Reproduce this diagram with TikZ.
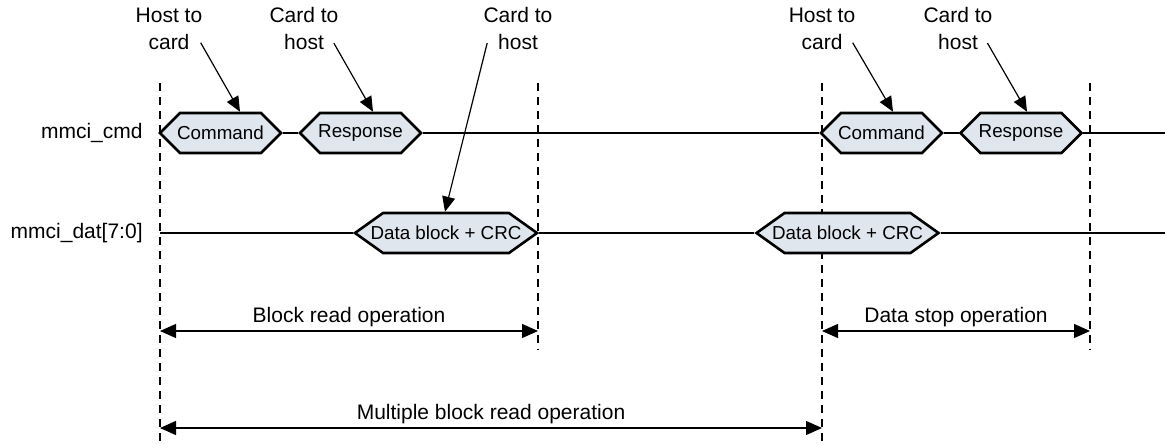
\documentclass[tikz,border=0pt]{standalone}
\usepackage{fontspec}
\setmainfont{Liberation Sans}
\usetikzlibrary{positioning,arrows.meta,shapes.symbols}
\definecolor{ink}{HTML}{000000}
\definecolor{sigfill}{HTML}{E0E6ED}
\newcommand{\sigtext}[1]{\makebox[0pt]{#1}}
\tikzset{
  every node/.style={text=ink},
  sig/.style={signal, signal to=west and east, signal pointer angle=#1,
              draw=ink, line width=1.3pt, fill=sigfill, minimum height=20pt,
              inner xsep=0pt, inner ysep=0pt, font=\fontsize{9.4}{11}\selectfont},
  sig/.default=90,
  cmdsig/.style={sig=90, minimum width=60.5pt},
  datsig/.style={sig=71, minimum width=91pt},
  wire/.style={draw=ink, line width=1.1pt},
  cue/.style={draw=ink, line width=0.6pt, dash pattern=on 4pt off 3pt},
  dim/.style={{Triangle[length=8pt,width=7pt]}-{Triangle[length=8pt,width=7pt]},
              draw=ink, line width=0.6pt},
  note/.style={-{Triangle[length=7.5pt,width=6.5pt]}, draw=ink, line width=0.6pt},
  lab/.style={font=\fontsize{10.5}{13.5}\selectfont, align=center, inner sep=1pt},
  signame/.style={lab, anchor=east},
}

\begin{document}
\begin{tikzpicture}[x=0.5pt,y=0.5pt]
\useasboundingbox (0,0) rectangle (1165,444);

% ---------------- time markers ----------------
\coordinate (mAt) at (160,361);  \coordinate (mAb) at (160,0);
\coordinate (mBt) at (538,361);  \coordinate (mBb) at (538,94);
\coordinate (mCt) at (822,361);  \coordinate (mCb) at (822,0);
\coordinate (mDt) at (1090,361); \coordinate (mDb) at (1090,94);
\draw[cue] (mAt) -- (mAb);
\draw[cue] (mBt) -- (mBb);
\draw[cue] (mCt) -- (mCb);
\draw[cue] (mDt) -- (mDb);

% ---------------- signals ----------------
\node[signame] (lcmd) at (145,311) {mmci\_cmd};
\node[signame] (ldat) at (145,211) {mmci\_dat[7:0]};

\node[cmdsig] (cmdA) at (220.5,311) {\sigtext{Command}};
\node[cmdsig] (rspA) at (360.5,311) {\sigtext{Response}};
\node[cmdsig] (cmdB) at (881.5,311) {\sigtext{Command}};
\node[cmdsig] (rspB) at (1021,311)  {\sigtext{Response}};
\node[datsig] (datA) at (446,211)   {\sigtext{Data block + CRC}};
\node[datsig] (datB) at (847.5,211) {\sigtext{Data block + CRC}};

\coordinate (dat0) at (160,211);
\coordinate (cmdE) at (1165,311);
\coordinate (datE) at (1165,211);

\draw[wire] (cmdA.east) -- (rspA.west);
\draw[wire] (rspA.east) -- (cmdB.west);
\draw[wire] (cmdB.east) -- (rspB.west);
\draw[wire] (rspB.east) -- (cmdE);
\draw[wire] (dat0) -- (datA.west);
\draw[wire] (datA.east) -- (datB.west);
\draw[wire] (datB.east) -- (datE);

% ---------------- direction notes ----------------
\node[lab] (hcA) at (169,415.5) {Host to\\card};
\node[lab] (chA) at (304,415.5) {Card to\\host};
\node[lab] (chB) at (518,415.5) {Card to\\host};
\node[lab] (hcB) at (822,415.5) {Host to\\card};
\node[lab] (chC) at (958,415.5) {Card to\\host};

\draw[note] ([shift={(-2pt,4.5pt)}]hcA.south east) -- ([xshift=9.75pt]cmdA.north);
\draw[note] ([shift={(-3.5pt,4.5pt)}]chA.south east) -- ([xshift=6.25pt]rspA.north);
\draw[note] ([shift={(3pt,4.5pt)}]chB.south west) -- ([xshift=-0.5pt]datA.north);
\draw[note] ([shift={(-2.5pt,4.5pt)}]hcB.south east) -- ([xshift=5.75pt]cmdB.north);
\draw[note] ([shift={(-3.7pt,4.5pt)}]chC.south east) -- ([xshift=3pt]rspB.north);

% ---------------- operations ----------------
\coordinate (brL) at (160,113); \coordinate (brR) at (538,113);
\coordinate (dsL) at (822,113); \coordinate (dsR) at (1090,113);
\coordinate (mbL) at (160,16);  \coordinate (mbR) at (822,16);
\draw[dim] (brL) -- node[lab, above=1pt] (brT) {Block read operation} (brR);
\draw[dim] (dsL) -- node[lab, above=1pt] (dsT) {Data stop operation} (dsR);
\draw[dim] (mbL) -- node[lab, above=1pt] (mbT) {Multiple block read operation} (mbR);

\end{tikzpicture}
\end{document}
